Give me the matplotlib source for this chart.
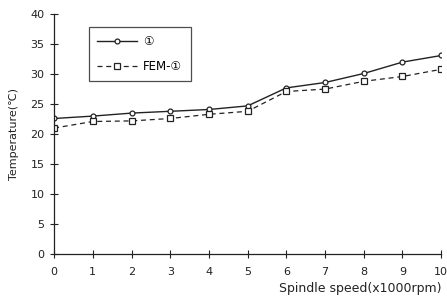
import matplotlib
matplotlib.use("Agg")
import matplotlib.pyplot as plt

plt.rcParams['font.family'] = ['DejaVu Sans', 'Noto Sans CJK SC']

speed = [0, 1, 2, 3, 4, 5, 6, 7, 8, 9, 10]
measured = [22.6, 23.0, 23.5, 23.8, 24.1, 24.7, 27.7, 28.6, 30.1, 32.0, 33.1]
fem = [21.0, 22.1, 22.2, 22.6, 23.3, 23.8, 27.1, 27.5, 28.8, 29.6, 30.8]
label_measured = "①"
label_fem = "FEM-①"
yticks = [0, 5, 10, 15, 20, 25, 30, 35, 40]

fig = plt.figure(figsize=(4.47, 3.0), dpi=100)
ax = fig.add_axes([0.121, 0.153, 0.866, 0.80])

c = '#222222'
ax.plot(speed, measured, '-', color=c, lw=1.0, marker='o', ms=3.5,
        mfc='white', mec=c, mew=0.9, label=label_measured)
ax.plot(speed, fem, '--', color=c, lw=0.9, marker='s', ms=5,
        mfc='white', mec=c, mew=0.9, dashes=(4, 3), label=label_fem)

ax.set_xlim(0, 10)
ax.set_ylim(0, 40)
ax.set_xticks(speed)
ax.set_yticks(yticks)
for s in ['top', 'right']:
    ax.spines[s].set_visible(False)
for s in ['left', 'bottom']:
    ax.spines[s].set_color(c)
    ax.spines[s].set_linewidth(0.9)
ax.tick_params(direction='inout', length=6, width=0.8, colors=c, labelsize=8, pad=4)
ax.tick_params(axis='x', pad=6)

ax.set_ylabel("Temperature(℃)", fontsize=8, color=c, labelpad=8)
ax.set_xlabel("Spindle speed(x1000rpm)", fontsize=9, color=c, loc='right', labelpad=4)

leg = ax.legend(loc='upper left', bbox_to_anchor=(0.075, 0.97), fontsize=8.5,
                frameon=True, fancybox=False, edgecolor=c, handlelength=3.4,
                labelspacing=0.95, borderpad=0.7, handletextpad=0.5)
leg.get_frame().set_linewidth(0.9)

fig.savefig("out.png", dpi=100)
